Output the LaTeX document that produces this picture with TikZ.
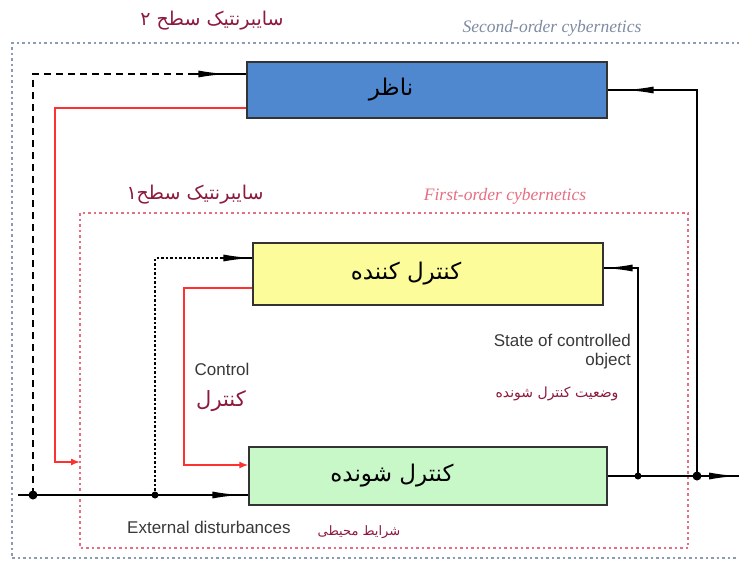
\documentclass[tikz,border=0pt]{standalone}
\usepackage{fontspec}
\setmainfont{Liberation Sans}
\newfontfamily\titlefont{Liberation Serif}
\newfontfamily\fa[Script=Arabic]{DejaVu Sans}
\TeXXeTstate=1
\usetikzlibrary{arrows.meta,decorations.markings}

\definecolor{obsblue}{RGB}{80,136,208}
\definecolor{ctlyellow}{RGB}{252,252,154}
\definecolor{plantgreen}{RGB}{200,248,200}
\definecolor{outergrey}{RGB}{140,155,180}
\definecolor{innerpink}{RGB}{230,110,130}
\definecolor{ctlred}{RGB}{255,48,48}
\definecolor{fared}{RGB}{140,26,60}

\tikzset{
  blockbox/.style={draw=black!80,line width=1.4pt,minimum height=#1,inner sep=0pt},
  boxtext/.style={inner sep=1pt,font=\fa\fontsize{23}{26}\selectfont},
  conn/.style={line width=1.6pt,black},
  redconn/.style={line width=1.5pt,ctlred,-{Latex[length=9pt,width=7pt]}},
  midarrow/.style={decoration={markings,
      mark=at position #1 with {\arrow{Latex[length=28pt,width=7pt]}}},
    postaction={decorate}},
  joint/.style={circle,fill=black,inner sep=0pt,minimum size=7pt},
  falabel/.style={text=fared,inner sep=1pt},
  enlabel/.style={text=black!78,inner sep=1pt,font=\fontsize{17}{19}\selectfont},
  cybtitle/.style={font=\titlefont\itshape\fontsize{17.5}{20}\selectfont},
}

\begin{document}
\begin{tikzpicture}[x=1pt,y=-1pt]
\useasboundingbox (0,0) rectangle (739,562);
%%
  % Frame: second order
  \draw[outergrey,line width=2.2pt,dash pattern=on 2.5pt off 3pt]
    (745,43) -- (12,43) -- (12,558) -- (745,558);
  \node[cybtitle,text=outergrey!90!black] (so) at (552,28) {Second-order cybernetics};
  \node[falabel,font=\fa\fontsize{19}{22}\selectfont] (solbl) at (212,21) {\beginR سایبرنتیک سطح ۲\endR};
  % Frame: first order
  \draw[innerpink,line width=1.6pt,dash pattern=on 2.5pt off 3pt]
    (80,213) rectangle (688,548);
  \node[cybtitle,text=innerpink] (fo) at (505,196) {First-order cybernetics};
  \node[falabel,font=\fa\fontsize{19}{22}\selectfont] (folbl) at (195,195) {\beginR سایبرنتیک سطح۱\endR};
  % Node: obs
  \node[blockbox=56pt,fill=obsblue,minimum width=360pt] (obs) at (427,90) {};
  \node[boxtext] (obstxt) at ([xshift=-36pt]obs.center) {\beginR ناظر\endR};
  % Node: ctl
  \node[blockbox=62pt,fill=ctlyellow,minimum width=350pt] (ctl) at (428,274) {};
  \node[boxtext] (ctltxt) at ([xshift=-22pt]ctl.center) {\beginR کنترل کننده\endR};
  % Node: plant
  \node[blockbox=58pt,fill=plantgreen,minimum width=358pt] (plant) at (428,476) {};
  \node[boxtext] (planttxt) at ([xshift=-36pt]plant.center) {\beginR کنترل شونده\endR};
  % joints
  \node[joint,minimum height=9pt] (j1) at (33,495) {};
  \node[joint] (j2) at (155,495) {};
  \node[joint] (j3) at (638,476) {};
  \node[joint,minimum height=9pt] (j4) at (697,476) {};
  \coordinate (in) at (18,495);
  \coordinate (out) at (739,476);
  \coordinate (rc1) at (55,462);
  \coordinate (fin) at (80,462);
  \coordinate (rc2) at (184,465);
  % Edge: in -> plant
  \draw[conn,midarrow=-8pt] (in) -- (in -| plant.west);
  % Edge: plant -> out
  \draw[conn,midarrow=-2pt] (plant.east) -- (out);
  % Edge: j1 -> obs
  \draw[conn,line width=2.2pt,dash pattern=on 7pt off 5pt] (j1.center) |- ([yshift=16pt]obs.west);
  \draw[conn,midarrow=-20pt] ([yshift=16pt,xshift=-55pt]obs.west) -- ([yshift=16pt]obs.west);
  % Edge: j4 -> obs
  \draw[conn,midarrow=-18pt] (j4.center) |- (obs.east);
  % Edge: obs -> first order
  \draw[redconn] ([yshift=-18pt]obs.west) -| (rc1) -- (fin);
  % Edge: j2 -> ctl
  \draw[conn,line width=2pt,dash pattern=on 2.5pt off 2pt] (j2.center) |- ([yshift=16pt]ctl.west);
  \draw[conn,midarrow=-1pt] ([yshift=16pt,xshift=-32pt]ctl.west) -- ([yshift=16pt]ctl.west);
  % Edge: j3 -> ctl
  \draw[conn,midarrow=-1pt] (j3.center) |- ([yshift=6pt]ctl.east);
  % Edge: ctl -> plant
  \draw[redconn] ([yshift=-14pt]ctl.west) -| (rc2) -- (rc2 -| plant.west);
  % labels
  \node[enlabel] (cl) at (222,369) {Control};
  \node[falabel,font=\fa\fontsize{21}{24}\selectfont] (clfa) at (221,401) {\beginR کنترل\endR};
  \node[enlabel,anchor=east,align=right] (st) at (632,352) {State of controlled\\object};
  \node[falabel,font=\fa\fontsize{14}{16}\selectfont] (stfa) at (557,394) {\beginR وضعیت کنترل شونده\endR};
  \node[enlabel,anchor=west] (ext) at (126,527) {External disturbances};
  \node[falabel,font=\fa\fontsize{13}{15}\selectfont] (extfa) at (359,532) {\beginR شرایط محیطی\endR};
%
\end{tikzpicture}
\end{document}
